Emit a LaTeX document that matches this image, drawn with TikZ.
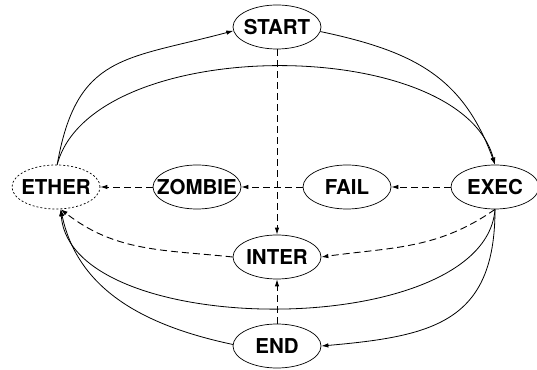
\documentclass[tikz,border=0pt]{standalone}
\usepackage{fontspec}
\setmainfont{TeX Gyre Heros}
\usetikzlibrary{shapes.geometric,arrows.meta}
\begin{document}
\begin{tikzpicture}[x=1pt,y=1pt,
  state/.style={ellipse,draw,line width=0.7pt,minimum width=88pt,minimum height=44pt,inner sep=0pt,
    font=\fontsize{20.5}{24}\selectfont\bfseries},
  ghost/.style={state,dash pattern=on 2pt off 2pt},
  tip/.style={-{Latex[length=7pt,width=4.5pt]}},
  solidedge/.style={tip,line width=0.8pt},
  dashedge/.style={tip,line width=0.9pt,dash pattern=on 7pt off 4pt}]
\useasboundingbox (0,0) rectangle (537,369);
\node[state] (start) at (277,342) {\makebox[0pt]{START}};
\node[ghost] (ether) at (56,182) {\makebox[0pt]{ETHER}};
\node[state] (zombie) at (197,182) {\makebox[0pt]{ZOMBIE}};
\node[state] (fail) at (347,182) {\makebox[0pt]{FAIL}};
\node[state] (exec) at (495,182) {\makebox[0pt]{EXEC}};
\node[state] (inter) at (277,112) {\makebox[0pt]{INTER}};
\node[state] (end) at (277,23) {\makebox[0pt]{END}};
% solid edges
\draw[solidedge] (ether.87) to[out=80,in=195,looseness=1.3] (start.185);
\draw[solidedge] (ether.87) .. controls +(35,131) and +(-35,131) .. (exec.north);
\draw[solidedge] (start.-6) to[out=-12,in=110,looseness=1.1] (exec.north);
\draw[solidedge] (exec.south) .. controls +(-10,-132) and +(10,-132) .. (ether.-78);
\draw[solidedge] (exec.south) to[out=-90,in=5,looseness=1.3] (end.east);
\draw[solidedge] (end.178) to[out=168,in=-78] (ether.-78);
% dashed edges
\draw[dashedge] (start.south) -- (inter.north);
\draw[dashedge] (end.north) -- (inter.south);
\draw[dashedge] (exec.west) -- (fail.east);
\draw[dashedge] (fail.west) -- (zombie.east);
\draw[dashedge] (zombie.west) -- (ether.east);
\draw[dashedge] (exec.south) to[out=215,in=8] (inter.east);
\draw[dashedge] (inter.west) to[out=174,in=-38] (ether.-78);
\end{tikzpicture}
\end{document}
